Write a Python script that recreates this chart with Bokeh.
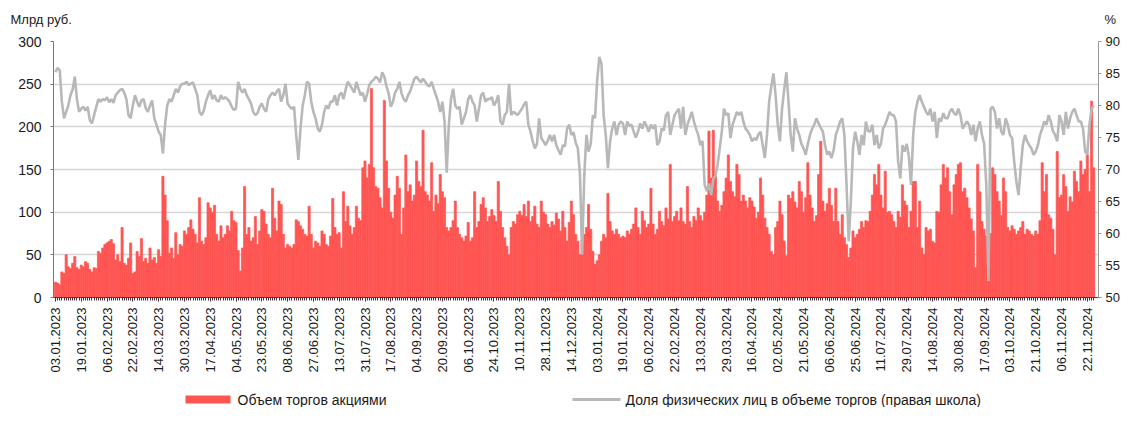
import math
from bokeh.plotting import figure
from bokeh.layouts import column
from bokeh.models import Range1d, LinearAxis, FixedTicker, ColumnDataSource
from bokeh.core.properties import value
from bokeh.embed import file_html
from bokeh.resources import INLINE

tick_labels = [
    "03.01.2023", "19.01.2023", "06.02.2023", "22.02.2023", "14.03.2023", "30.03.2023",
    "17.04.2023", "04.05.2023", "23.05.2023", "08.06.2023", "27.06.2023", "13.07.2023",
    "31.07.2023", "17.08.2023", "04.09.2023", "20.09.2023", "06.10.2023", "24.10.2023",
    "10.11.2023", "28.11.2023", "14.12.2023", "03.01.2024", "19.01.2024", "06.02.2024",
    "22.02.2024", "13.03.2024", "29.03.2024", "16.04.2024", "02.05.2024", "21.05.2024",
    "06.06.2024", "25.06.2024", "11.07.2024", "29.07.2024", "14.08.2024", "30.08.2024",
    "17.09.2024", "03.10.2024", "21.10.2024", "06.11.2024", "22.11.2024",
]
tick_step = 12

# Объем торгов акциями, млрд руб. (daily)
volume = [
    18, 17, 15, 30, 28, 50, 36, 34, 40, 48, 35, 33,
    38, 36, 42, 40, 33, 30, 35, 34, 54, 52, 58, 62,
    64, 66, 68, 63, 44, 50, 42, 82, 40, 38, 46, 64,
    28, 30, 54, 48, 69, 42, 46, 40, 58, 44, 47, 40,
    56, 48, 142, 120, 90, 52, 58, 46, 76, 50, 62, 60,
    78, 74, 82, 91, 80, 74, 64, 117, 66, 62, 70, 111,
    105, 100, 108, 74, 66, 84, 70, 74, 84, 78, 101, 90,
    88, 55, 31, 58, 130, 74, 82, 66, 70, 95, 62, 78,
    103, 101, 86, 74, 70, 128, 93, 78, 113, 109, 74, 58,
    62, 60, 58, 62, 91, 89, 84, 80, 74, 72, 107, 74,
    58, 66, 64, 60, 78, 74, 62, 60, 72, 116, 82, 74,
    76, 58, 124, 89, 107, 84, 74, 82, 107, 93, 90, 152,
    160, 140, 156, 245, 152, 130, 128, 117, 105, 231, 160, 128,
    100, 93, 120, 142, 128, 74, 105, 167, 124, 132, 113, 120,
    160, 136, 130, 196, 124, 120, 113, 158, 101, 120, 110, 144,
    124, 117, 82, 78, 82, 90, 113, 82, 74, 70, 66, 72,
    88, 66, 70, 124, 82, 89, 109, 117, 105, 89, 95, 103,
    96, 89, 136, 101, 82, 70, 60, 50, 82, 89, 86, 97,
    101, 96, 109, 95, 113, 89, 95, 107, 86, 82, 113, 100,
    97, 86, 82, 89, 85, 99, 92, 78, 101, 82, 66, 88,
    113, 97, 74, 66, 50, 68, 74, 82, 109, 80, 54, 39,
    43, 50, 66, 74, 70, 122, 89, 78, 74, 80, 74, 70,
    72, 70, 78, 74, 80, 86, 105, 82, 74, 101, 90, 82,
    86, 128, 86, 74, 80, 101, 89, 84, 105, 92, 156, 89,
    95, 101, 90, 105, 89, 86, 130, 89, 82, 95, 90, 105,
    96, 90, 100, 120, 195, 140, 196, 144, 113, 101, 108, 124,
    140, 167, 136, 124, 118, 156, 144, 113, 120, 113, 105, 117,
    113, 106, 93, 100, 140, 120, 93, 82, 74, 54, 50, 82,
    89, 113, 97, 66, 49, 120, 116, 124, 112, 105, 136, 124,
    100, 117, 158, 120, 105, 89, 96, 144, 183, 113, 101, 110,
    128, 108, 89, 128, 89, 74, 97, 70, 62, 47, 58, 78,
    70, 74, 80, 89, 82, 90, 89, 101, 120, 144, 132, 156,
    120, 105, 148, 100, 101, 97, 89, 82, 101, 94, 132, 113,
    108, 82, 101, 136, 136, 82, 113, 58, 50, 82, 78, 80,
    66, 64, 101, 100, 132, 156, 140, 152, 124, 97, 132, 144,
    156, 158, 124, 128, 117, 105, 92, 78, 35, 156, 124, 89,
    80, 72, 68, 75, 152, 144, 124, 113, 96, 140, 124, 82,
    78, 84, 80, 74, 78, 82, 89, 74, 80, 78, 74, 72,
    78, 74, 90, 158, 124, 144, 97, 93, 80, 50, 171, 117,
    120, 144, 130, 101, 118, 112, 148, 136, 124, 160, 144, 150,
    167, 124, 230, 152,
]

# Доля физических лиц в объеме торгов, % (daily)
share = [
    85.2, 85.9, 85.5, 80.6, 78.0, 79.0, 80.0, 81.6, 82.5, 84.5, 81.0, 79.0,
    79.5, 79.8, 79.2, 79.8, 77.7, 77.2, 78.5, 79.8, 81.0, 80.6, 81.0, 80.8,
    81.3, 80.5, 81.0, 80.4, 81.6, 82.0, 82.4, 82.6, 82.0, 81.0, 78.5, 78.0,
    80.0, 81.6, 80.6, 79.8, 80.8, 81.0, 79.6, 79.0, 80.0, 80.8, 78.0, 77.0,
    75.9, 75.4, 72.5, 77.0, 80.0, 81.0, 80.6, 81.6, 82.6, 82.0, 83.0, 83.4,
    83.4, 83.7, 83.2, 83.4, 83.6, 82.6, 81.6, 79.0, 78.5, 79.2, 80.6, 81.6,
    82.4, 81.0, 81.6, 80.8, 80.6, 81.6, 81.0, 81.3, 81.0, 80.6, 79.8, 79.3,
    79.5, 83.7, 82.6, 82.0, 82.6, 81.6, 81.0, 80.3, 79.0, 78.5, 78.8, 79.8,
    80.3, 79.5, 79.0, 81.0, 81.6, 82.0, 81.6, 82.2, 82.6, 80.6, 81.6, 83.4,
    80.3, 79.8, 79.5, 79.8, 75.4, 71.5, 76.4, 80.0, 81.6, 83.7, 83.4, 80.6,
    79.0, 78.0, 76.4, 75.9, 77.0, 79.0, 80.0, 79.5, 80.6, 80.6, 81.6, 80.0,
    81.6, 82.0, 81.0, 82.5, 83.7, 83.2, 82.6, 82.0, 83.7, 82.6, 81.6, 82.0,
    80.6, 81.8, 83.2, 83.7, 84.0, 84.5, 84.2, 83.6, 85.2, 84.5, 83.0, 81.9,
    79.8, 80.6, 82.0, 82.6, 83.7, 81.9, 81.0, 80.6, 81.6, 82.2, 83.2, 84.2,
    84.5, 84.0, 83.6, 84.2, 83.7, 83.2, 83.0, 83.7, 82.6, 81.6, 80.6, 79.0,
    80.6, 77.5, 69.5, 77.0, 81.0, 82.6, 80.0, 79.5, 79.8, 77.0, 78.0, 79.0,
    81.0, 81.6, 80.6, 80.0, 77.5, 79.5, 81.6, 82.0, 80.6, 81.0, 81.0, 81.3,
    80.0, 80.6, 81.6, 77.5, 77.0, 78.5, 79.0, 83.4, 78.5, 79.0, 78.8, 78.5,
    79.0, 79.5, 80.2, 80.6, 77.0, 75.9, 74.4, 73.3, 74.0, 78.0, 74.9, 74.4,
    73.8, 74.5, 75.4, 74.4, 75.4, 73.8, 73.0, 72.3, 73.8, 73.6, 76.4, 77.0,
    75.4, 75.8, 74.2, 73.3, 69.2, 56.7, 69.0, 75.4, 72.8, 74.0, 78.5, 78.0,
    84.0, 87.6, 86.5, 78.5, 75.4, 70.2, 74.4, 76.4, 77.5, 75.4, 77.0, 77.5,
    77.2, 75.4, 77.5, 76.8, 77.0, 75.9, 75.0, 75.9, 77.2, 76.4, 77.5, 76.8,
    75.9, 77.0, 76.4, 77.0, 73.8, 74.4, 76.4, 76.1, 78.5, 79.0, 75.4, 77.0,
    78.5, 79.0, 79.5, 76.4, 79.8, 75.4, 77.0, 78.0, 79.0, 77.5, 76.4, 75.4,
    73.8, 74.5, 67.6, 66.6, 67.8, 66.0, 68.5, 69.0, 70.7, 73.3, 76.0, 79.5,
    78.5, 78.8, 74.9, 77.0, 78.0, 79.0, 78.5, 79.0, 77.5, 76.4, 76.0, 75.4,
    74.4, 74.9, 74.6, 75.5, 75.9, 73.8, 71.8, 75.4, 80.6, 83.0, 85.0, 81.6,
    77.0, 74.4, 79.5, 82.5, 85.2, 80.6, 75.4, 72.8, 78.0, 76.4, 75.4, 74.0,
    73.3, 72.3, 74.0, 75.4, 76.4, 77.0, 78.0, 77.2, 76.5, 75.9, 73.8, 72.3,
    72.8, 71.8, 73.0, 75.4, 76.4, 77.5, 78.0, 75.4, 67.6, 58.8, 65.0, 73.3,
    75.9, 74.4, 72.3, 75.4, 73.8, 77.5, 76.0, 75.9, 77.0, 73.8, 75.4, 73.3,
    74.0, 76.4, 77.0, 78.0, 79.0, 78.5, 78.5, 77.5, 71.2, 68.6, 73.8, 72.8,
    74.0, 72.0, 67.6, 75.4, 79.0, 80.6, 81.6, 80.6, 79.8, 79.0, 78.5, 79.5,
    77.5, 79.0, 74.9, 78.0, 77.5, 78.8, 78.0, 78.0, 79.0, 79.5, 78.8, 78.5,
    79.5, 78.5, 76.4, 77.0, 77.5, 77.0, 75.4, 77.0, 74.4, 76.4, 77.5, 75.4,
    74.0, 67.6, 52.6, 79.5, 79.8, 79.0, 76.4, 78.0, 75.9, 75.4, 78.0, 77.0,
    75.4, 74.9, 71.2, 68.1, 66.0, 70.2, 73.8, 75.4, 74.4, 73.8, 73.3, 72.3,
    72.8, 73.8, 75.4, 76.4, 77.5, 77.0, 78.5, 77.5, 76.0, 75.4, 74.4, 78.5,
    77.5, 75.4, 79.0, 76.4, 78.0, 79.0, 79.5, 78.5, 77.5, 77.5, 76.4, 72.8,
    72.3, 77.0, 79.5, 80.0,
]

series_names = ["Объем торгов акциями",
                "Доля физических лиц в объеме торгов (правая школа)"]
unit_left = "Млрд руб."
unit_right = "%"

n = min(len(volume), len(share))
idx = list(range(n))
src_v = ColumnDataSource(dict(x=idx, v=volume[:n]))
src_s = ColumnDataSource(dict(x=idx, s=share[:n]))

FONT = "Liberation Sans"
TXT = "#1a1a1a"
RED = "#ff5552"
GRAY = "#b8b8b8"
W = 1122
TOP_H, MAIN_H, BOT_H = 30, 345, 32


def blank_fig(h):
    f = figure(width=W, height=h, output_backend="svg", toolbar_location=None,
               x_range=Range1d(0, W), y_range=Range1d(0, h),
               x_axis_type=None, y_axis_type=None,
               min_border_left=0, min_border_right=0, min_border_top=0,
               min_border_bottom=0, frame_align=False)
    f.outline_line_color = None
    f.xgrid.visible = False
    f.ygrid.visible = False
    return f


# ---------- captions row ----------
top = blank_fig(TOP_H)
top.text(x=[10, 1104], y=[TOP_H - 19, TOP_H - 19], text=[unit_left, unit_right],
         text_font=value(FONT), text_font_size=value("13px"), text_color=TXT,
         text_baseline="middle", text_align="left")

# ---------- main chart ----------
p = figure(width=W, height=MAIN_H, output_backend="svg", toolbar_location=None,
           x_range=Range1d(-0.9, n + 1.2), y_range=Range1d(0, 300),
           min_border_left=53, min_border_right=23, min_border_top=11,
           min_border_bottom=77, frame_align=False)
p.outline_line_color = None
p.background_fill_color = "white"
p.extra_y_ranges = {"pct": Range1d(50, 90)}

p.vbar(x="x", top="v", width=1.0, source=src_v, fill_color=RED,
       line_color=RED, line_width=0.7)
p.line(x="x", y="s", source=src_s, y_range_name="pct",
       line_color=GRAY, line_width=2.6)

xa = p.xaxis[0]
ticks = [i * tick_step for i in range(len(tick_labels))]
xa.ticker = FixedTicker(ticks=ticks, minor_ticks=idx)
xa.major_label_overrides = {t: lab for t, lab in zip(ticks, tick_labels)}
xa.major_label_orientation = math.pi / 2
xa.major_label_text_font = FONT
xa.major_label_text_font_size = "13px"
xa.major_label_text_color = TXT
xa.major_label_standoff = 6
xa.axis_line_color = "#444444"
xa.major_tick_line_color = "#333333"
xa.major_tick_out = 4
xa.major_tick_in = 0
xa.minor_tick_line_color = "#4a3030"
xa.minor_tick_out = 3
xa.minor_tick_in = 0

ya = p.yaxis[0]
ya.ticker = FixedTicker(ticks=[0, 50, 100, 150, 200, 250, 300])
ya.major_label_text_font = FONT
ya.major_label_text_font_size = "14px"
ya.major_label_text_color = TXT
ya.axis_line_color = "#777777"
ya.major_tick_line_color = "#777777"
ya.major_tick_out = 3
ya.major_tick_in = 0
ya.minor_tick_line_color = None
ya.major_label_standoff = 9

ra = LinearAxis(y_range_name="pct", ticker=FixedTicker(ticks=list(range(50, 91, 5))))
ra.major_label_text_font = FONT
ra.major_label_text_font_size = "13px"
ra.major_label_text_color = TXT
ra.axis_line_color = "#999999"
ra.major_tick_line_color = "#999999"
ra.major_tick_out = 3
ra.major_tick_in = 0
ra.minor_tick_line_color = None
ra.major_label_standoff = 4
p.add_layout(ra, "right")

p.xgrid.visible = False
p.ygrid.ticker = FixedTicker(ticks=[50, 100, 150, 200, 250, 300])
p.ygrid.grid_line_color = "#d6d6d6"
p.ygrid.grid_line_width = 1.5

# ---------- legend row ----------
bot = blank_fig(BOT_H)
ly = 8
bot.quad(left=[185], right=[230], bottom=[ly - 4], top=[ly + 4],
         fill_color=RED, line_color=None)
bot.segment(x0=[572], y0=[ly], x1=[620], y1=[ly], line_color=GRAY, line_width=3)
bot.text(x=[237, 625], y=[ly, ly], text=series_names,
         text_font=value(FONT), text_font_size=value("14px"), text_color=TXT,
         text_baseline="middle", text_align="left")

layout = column(top, p, bot, spacing=0)
open("out.html", "w").write(file_html(layout, INLINE))
